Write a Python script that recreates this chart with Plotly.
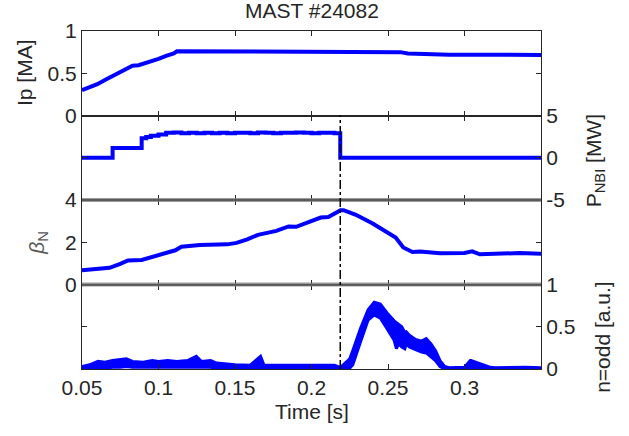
import plotly.graph_objects as go
from plotly.subplots import make_subplots

# ---------------- data ----------------
t_ip = [0.05, 0.055, 0.06, 0.065, 0.07, 0.075, 0.08, 0.083, 0.087, 0.09, 0.095, 0.1, 0.105,
        0.11, 0.112, 0.12, 0.13, 0.14, 0.15, 0.16, 0.17, 0.18, 0.19, 0.2, 0.21, 0.22, 0.23,
        0.24, 0.25, 0.255, 0.258, 0.263, 0.27, 0.28, 0.29, 0.3, 0.31, 0.32, 0.33, 0.34, 0.35]
ip = [0.30, 0.33, 0.37, 0.42, 0.47, 0.52, 0.565, 0.59, 0.595, 0.61, 0.64, 0.67, 0.705,
      0.735, 0.76, 0.76, 0.755, 0.755, 0.755, 0.75, 0.755, 0.75, 0.755, 0.755, 0.75, 0.755, 0.75,
      0.755, 0.755, 0.76, 0.75, 0.735, 0.73, 0.725, 0.72, 0.72, 0.725, 0.72, 0.72, 0.72, 0.715]

t_nbi = [0.05, 0.070, 0.089, 0.092, 0.095, 0.1, 0.105, 0.11, 0.115, 0.12, 0.125, 0.13, 0.135,
         0.14, 0.145, 0.15, 0.155, 0.16, 0.165, 0.17, 0.175, 0.18, 0.185, 0.19, 0.195, 0.2,
         0.205, 0.21, 0.215, 0.2188, 0.35]
p_nbi = [0.0, 1.15, 2.3, 2.45, 2.6, 2.75, 2.95, 3.0, 2.9, 2.95, 2.9, 2.95, 2.9,
         2.95, 2.9, 2.95, 2.95, 2.9, 3.0, 2.95, 2.9, 2.95, 2.95, 3.0, 2.95, 2.9,
         2.95, 2.95, 2.9, 0.0, 0.0]

t_beta = [0.05, 0.068, 0.075, 0.08, 0.089, 0.101, 0.111, 0.115, 0.127, 0.145, 0.151, 0.158,
          0.165, 0.177, 0.185, 0.19, 0.198, 0.206, 0.211, 0.219, 0.221, 0.229, 0.24, 0.25,
          0.255, 0.26, 0.266, 0.271, 0.284, 0.3, 0.305, 0.31, 0.323, 0.336, 0.35]
beta_n = [0.67, 0.79, 0.98, 1.14, 1.16, 1.43, 1.62, 1.79, 1.87, 1.9, 1.97, 2.14,
          2.35, 2.54, 2.75, 2.73, 2.95, 3.17, 3.19, 3.52, 3.52, 3.3, 2.89, 2.46,
          2.22, 1.75, 1.54, 1.56, 1.48, 1.49, 1.57, 1.43, 1.46, 1.49, 1.46]

t_n = [0.05, 0.055, 0.0605, 0.065, 0.07, 0.075, 0.079, 0.083, 0.09, 0.096, 0.1, 0.106, 0.112,
       0.119, 0.1243, 0.1247, 0.128, 0.134, 0.138, 0.145, 0.15, 0.16, 0.1663, 0.1667, 0.169,
       0.175, 0.18, 0.19, 0.2, 0.21, 0.215, 0.219, 0.225, 0.227, 0.232, 0.237, 0.241, 0.245,
       0.25, 0.254, 0.2555, 0.257, 0.259, 0.261, 0.262, 0.264, 0.268, 0.272, 0.275, 0.278,
       0.281, 0.284, 0.287, 0.29, 0.3, 0.3038, 0.3042, 0.317, 0.32, 0.34, 0.35]
n_odd_upper = [0.03, 0.05, 0.09, 0.08, 0.10, 0.11, 0.12, 0.09, 0.08, 0.10, 0.09, 0.10, 0.09,
               0.10, 0.15, 0.15, 0.09, 0.10, 0.07, 0.06, 0.05, 0.045, 0.15, 0.15, 0.045,
               0.045, 0.04, 0.04, 0.04, 0.04, 0.045, 0.02, 0.12, 0.22, 0.48, 0.70, 0.79, 0.77,
               0.65, 0.57, 0.55, 0.53, 0.50, 0.43, 0.44, 0.40, 0.35, 0.33, 0.36, 0.30,
               0.22, 0.10, 0.03, 0.015, 0.02, 0.10, 0.10, 0.02, 0.015, 0.02, 0.015]
n_odd_lower = [0.0, 0.0, 0.01, 0.01, 0.02, 0.02, 0.03, 0.02, 0.02, 0.02, 0.02, 0.02, 0.02,
               0.02, 0.02, 0.02, 0.02, 0.02, 0.01, 0.01, 0.01, 0.01, 0.01, 0.01, 0.01,
               0.0, 0.0, 0.0, 0.0, 0.0, 0.0, 0.0, 0.01, 0.05, 0.32, 0.58, 0.64, 0.60,
               0.46, 0.34, 0.24, 0.30, 0.26, 0.24, 0.30, 0.26, 0.23, 0.20, 0.19, 0.15,
               0.10, 0.03, 0.0, 0.0, 0.0, 0.0, 0.0, 0.0, 0.0, 0.0, 0.0]

t_nbi_off = 0.2188

x_tickvals = [0.05, 0.1, 0.15, 0.2, 0.25, 0.3]
x_ticktext = ["0.05", "0.1", "0.15", "0.2", "0.25", "0.3"]

# ---------------- figure ----------------
BLUE = "#0000ff"
TXT = "#262626"
FONT = "Liberation Sans, Arial, sans-serif"
FS = 21

fig = make_subplots(rows=4, cols=1, shared_xaxes=True, vertical_spacing=0)

fig.add_trace(go.Scatter(x=t_ip, y=ip, mode="lines", line=dict(color=BLUE, width=4)), row=1, col=1)
fig.add_trace(go.Scatter(x=t_nbi, y=p_nbi, mode="lines", line=dict(color=BLUE, width=4, shape="hv")), row=2, col=1)
fig.add_trace(go.Scatter(x=t_beta, y=beta_n, mode="lines", line=dict(color=BLUE, width=4)), row=3, col=1)
fig.add_trace(go.Scatter(x=t_n, y=n_odd_lower, mode="lines", line=dict(color=BLUE, width=3)), row=4, col=1)
fig.add_trace(go.Scatter(x=t_n, y=n_odd_upper, mode="lines", line=dict(color=BLUE, width=3),
                         fill="tonexty", fillcolor=BLUE), row=4, col=1)

axis_common = dict(showline=True, mirror="ticks", linecolor=TXT, linewidth=1,
                   ticks="inside", ticklen=5, tickcolor=TXT, showgrid=False, zeroline=False,
                   tickfont=dict(family=FONT, size=FS, color=TXT))

for i in range(1, 5):
    fig.update_xaxes(axis_common, range=[0.05, 0.35], tickvals=x_tickvals, ticktext=x_ticktext,
                     row=i, col=1)
fig.update_xaxes(showticklabels=True, row=4, col=1)

fig.update_yaxes(axis_common, range=[0, 1], tickvals=[0, 0.5, 1], ticktext=["0", "0.5", "1"], row=1, col=1)
fig.update_yaxes(axis_common, range=[-5, 5], tickvals=[-5, 0, 5], ticktext=["-5", "0", "5"],
                 side="right", row=2, col=1)
fig.update_yaxes(axis_common, range=[0, 4], tickvals=[0, 2, 4], ticktext=["0", "2", "4"], row=3, col=1)
fig.update_yaxes(axis_common, range=[0, 1], tickvals=[0, 0.5, 1], ticktext=["0", "0.5", "1"],
                 side="right", row=4, col=1)

# panel boundary bands (2/3 and 3/4)
for yr in ["y3 domain", "y4 domain"]:
    fig.add_shape(type="line", xref="paper", yref=yr, x0=0, x1=1, y0=1, y1=1,
                  line=dict(color="rgba(120,120,120,0.75)", width=4))
    fig.add_shape(type="line", xref="paper", yref=yr, x0=0, x1=1, y0=1, y1=1,
                  line=dict(color="#555555", width=1))

# NBI switch-off marker
fig.add_shape(type="line", xref="x", yref="paper", x0=t_nbi_off, x1=t_nbi_off, y0=0, y1=0.75,
              line=dict(color="black", width=1.5, dash="dashdot"))

ann_font = dict(family=FONT, size=FS, color=TXT)
common_ann = dict(xref="paper", yref="paper", showarrow=False, xanchor="center", yanchor="middle")
fig.add_annotation(text="Ip [MA]", x=-0.124, y=0.876, textangle=-90, font=ann_font, **common_ann)
fig.add_annotation(text="P<sub>NBI</sub> [MW]", x=1.118, y=0.615, textangle=-90, font=ann_font, **common_ann)
fig.add_annotation(text="<i>β</i><sub>N</sub>", x=-0.096, y=0.373, textangle=-90,
                   font=dict(family=FONT, size=FS, color="#5a5a5a"), **common_ann)
fig.add_annotation(text="n=odd [a.u.]", x=1.135, y=0.095, textangle=-90, font=ann_font, **common_ann)
fig.add_annotation(text="Time [s]", x=0.5, y=-0.125, font=ann_font, **common_ann)
fig.add_annotation(text="MAST #24082", x=0.5, y=1.06, font=ann_font, **common_ann)

fig.update_layout(width=629, height=436, showlegend=False,
                  margin=dict(l=82, r=88, t=31, b=67),
                  paper_bgcolor="white", plot_bgcolor="white")

fig.write_html("out.html")
